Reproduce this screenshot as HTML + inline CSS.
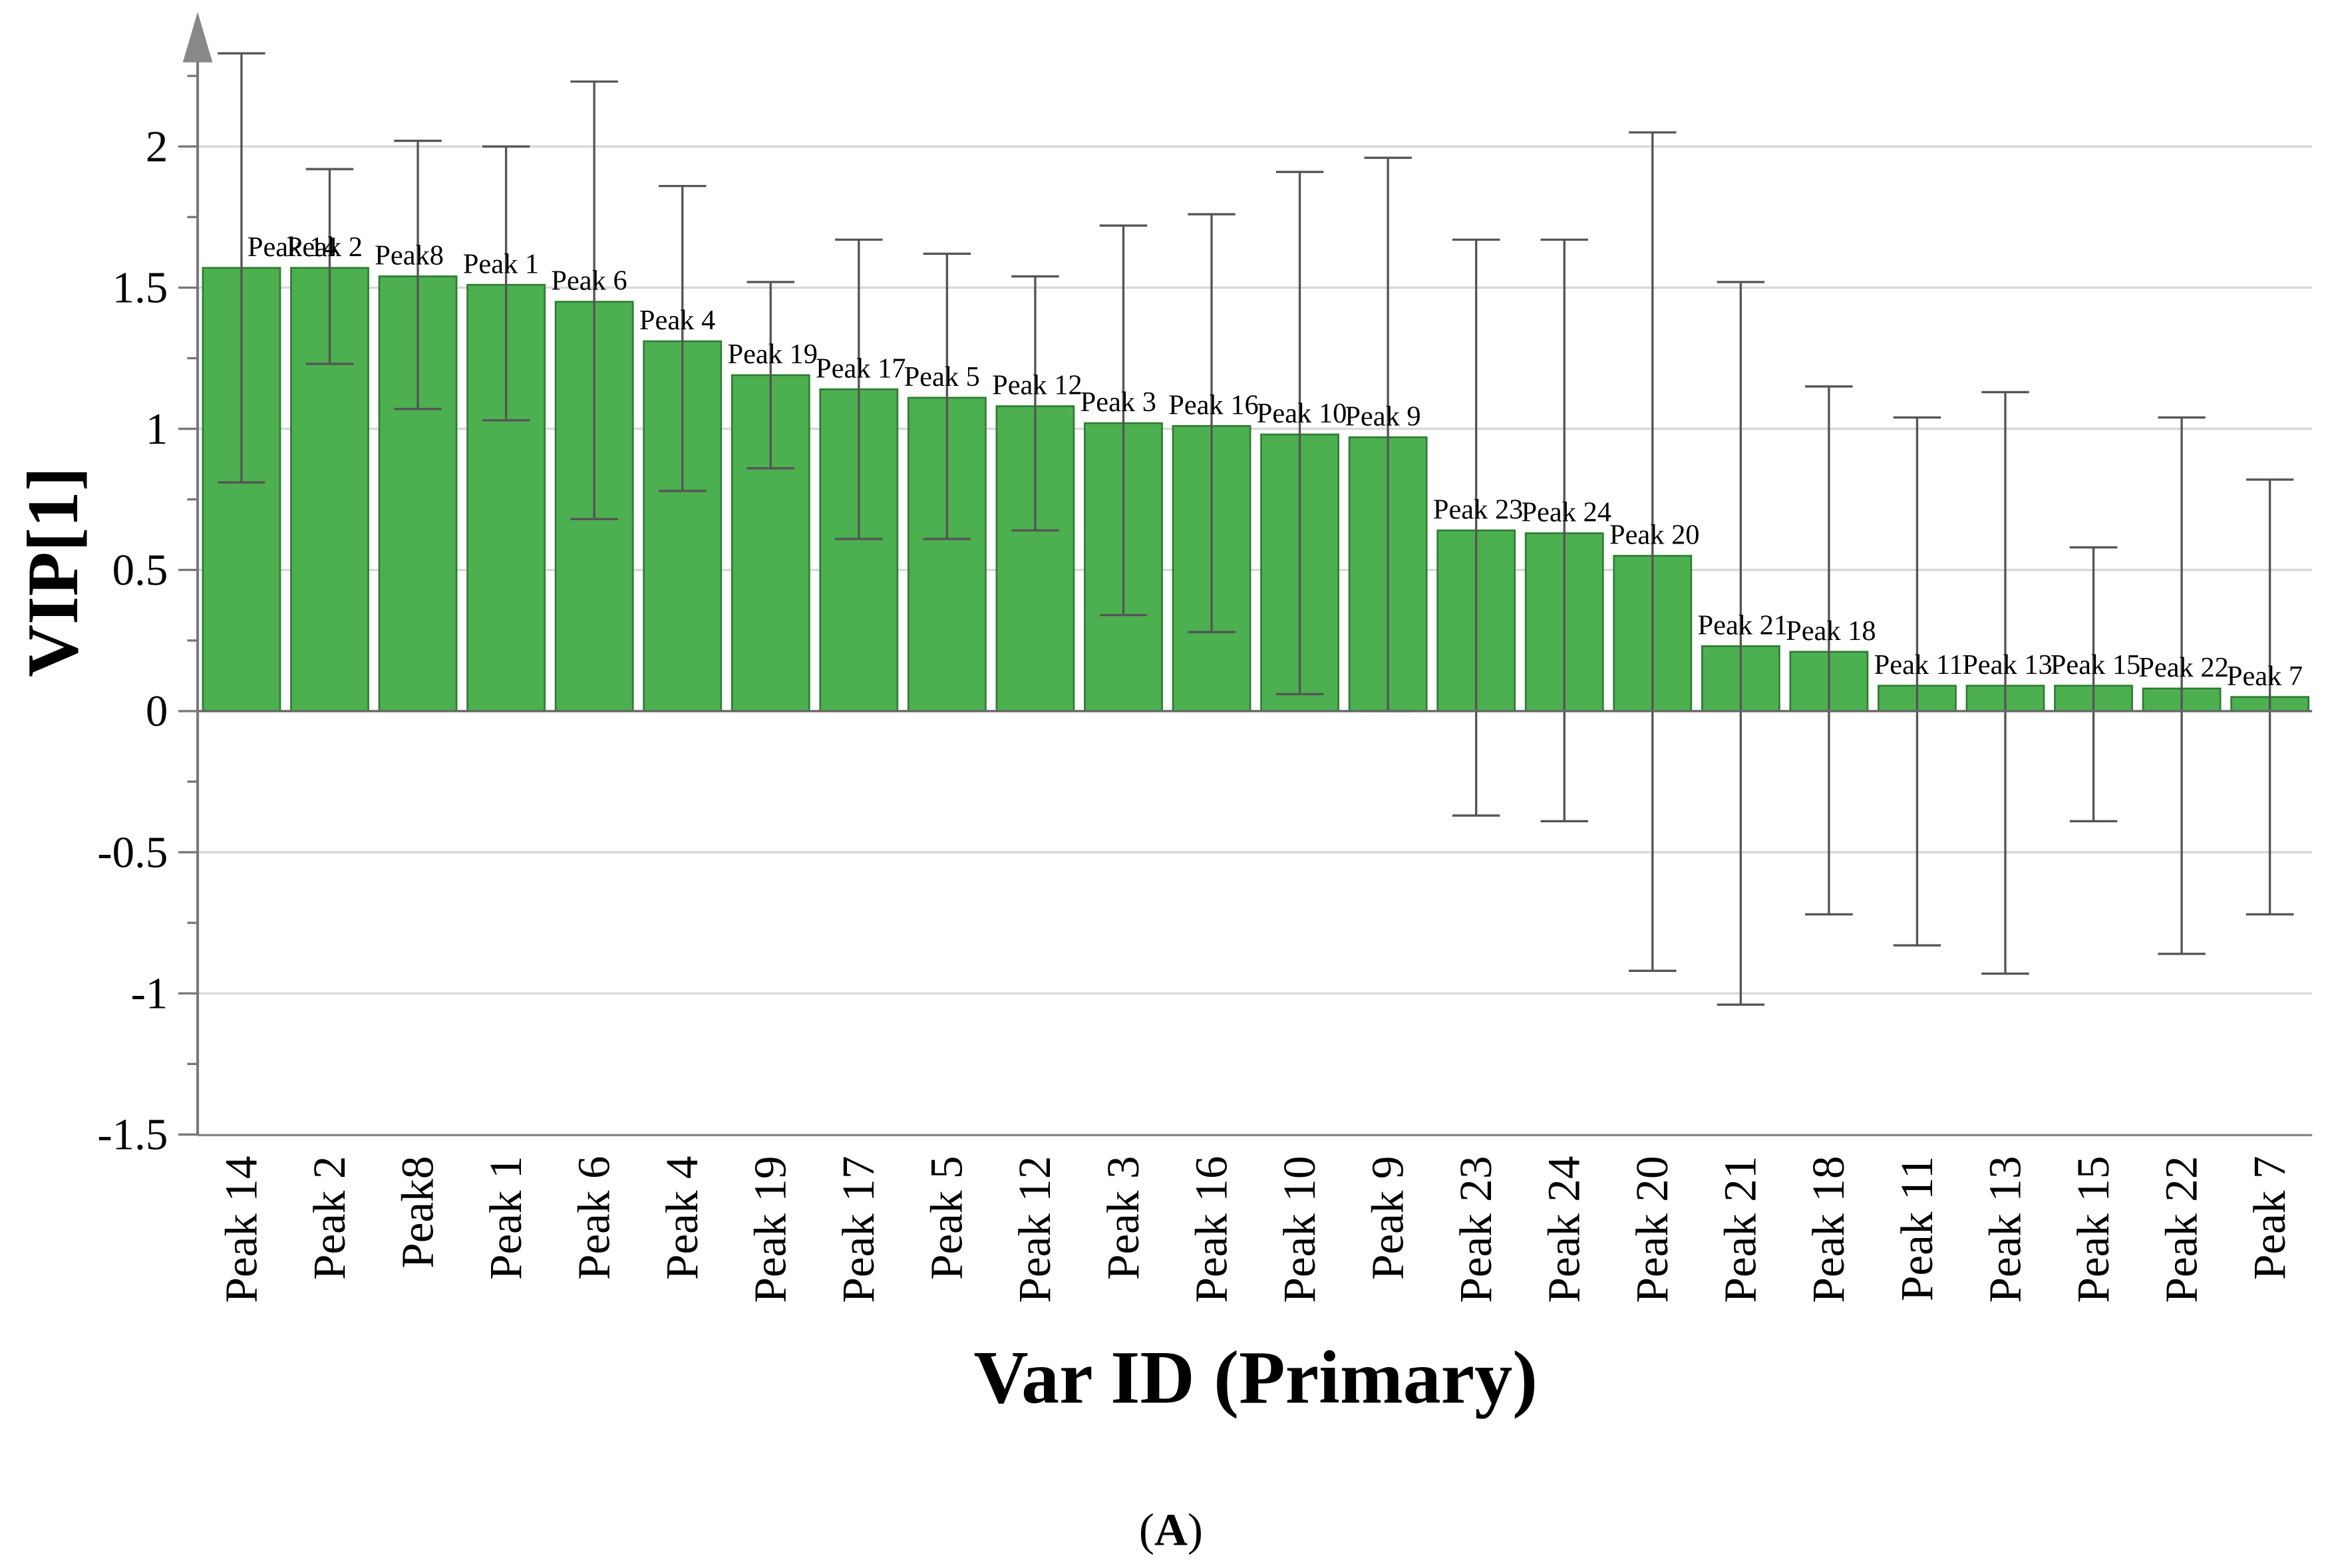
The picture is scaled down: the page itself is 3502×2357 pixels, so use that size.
<!DOCTYPE html>
<html><head><meta charset="utf-8"><style>html,body{margin:0;padding:0;background:#fff}svg{display:block}</style></head>
<body>
<svg width="3502" height="2357" viewBox="0 0 1568 1055.35" xmlns="http://www.w3.org/2000/svg" font-family="'Liberation Serif', serif">
<g id="grid"></g>
<g id="bars"></g>
<g id="errs"></g>
<g id="lbls"></g>
<g id="axes"></g>
<text transform="translate(52,385) rotate(-90)" text-anchor="middle" font-size="49" font-weight="bold">VIP[1]</text>
<text x="845" y="944" text-anchor="middle" font-size="51" font-weight="bold">Var ID (Primary)</text>
<text x="788" y="1040" text-anchor="middle" font-size="31">(<tspan font-weight="bold">A</tspan>)</text>
<script>
const categories=["Peak 14","Peak 2","Peak8","Peak 1","Peak 6","Peak 4","Peak 19","Peak 17","Peak 5","Peak 12","Peak 3","Peak 16","Peak 10","Peak 9","Peak 23","Peak 24","Peak 20","Peak 21","Peak 18","Peak 11","Peak 13","Peak 15","Peak 22","Peak 7"];
const values=[1.57,1.57,1.54,1.51,1.45,1.31,1.19,1.14,1.11,1.08,1.02,1.01,0.98,0.97,0.64,0.63,0.55,0.23,0.21,0.09,0.09,0.09,0.08,0.05];
const upper=[2.33,1.92,2.02,2.0,2.23,1.86,1.52,1.67,1.62,1.54,1.72,1.76,1.91,1.96,1.67,1.67,2.05,1.52,1.15,1.04,1.13,0.58,1.04,0.82];
const lower=[0.81,1.23,1.07,1.03,0.68,0.78,0.86,0.61,0.61,0.64,0.34,0.28,0.06,0.0,-0.37,-0.39,-0.92,-1.04,-0.72,-0.83,-0.93,-0.39,-0.86,-0.72];
const yTicks=[-1.5,-1,-0.5,0,0.5,1,1.5,2];
const yTickLabels=["-1.5","-1","-0.5","0","0.5","1","1.5","2"];
const NS="http://www.w3.org/2000/svg";
const X0=133,X1=1556,Y0=764;
function y(v){return 478.6-v*190;}
function xc(i){return 162.5+i*59.35;}
function mk(p,t,a){const e=document.createElementNS(NS,t);for(const k in a)e.setAttribute(k,a[k]);document.getElementById(p).appendChild(e);return e;}
yTicks.forEach((t,i)=>{
 if(t!==0&&t!==-1.5){const g=mk('grid','line',{x1:X0,x2:X1,y1:y(t),y2:y(t),stroke:'#d8d8d8','stroke-width':1.5});
 
 }
 const tk=mk('axes','line',{x1:120,x2:X0,y1:y(t),y2:y(t),stroke:'#777','stroke-width':1.5});
 
 
 const m=mk('axes','line',{x1:126,x2:X0,y1:y(t+0.25),y2:y(t+0.25),stroke:'#777','stroke-width':1.5});
 
 
 const lb=mk('axes','text',{x:113,y:y(t)+10,'text-anchor':'end','font-size':30});
 lb.textContent=yTickLabels[i];
 
 
});
const bw=52;
categories.forEach((c,i)=>{
 const v=values[i],cx=xc(i);
 const r=mk('bars','rect',{x:cx-bw/2,y:Math.min(y(v),y(0)),width:bw,height:Math.abs(y(0)-y(v)),fill:'#4caf50',stroke:'#2e7d32','stroke-width':1.2});
 
 
 const e=mk('errs','path',{d:`M${cx},${y(upper[i])}V${y(lower[i])}M${cx-16},${y(upper[i])}H${cx+16}M${cx-16},${y(lower[i])}H${cx+16}`,stroke:'#555','stroke-width':1.5,fill:'none'});
 
 
 const t=mk('lbls','text',{x:i===0?cx+4:cx-29,y:y(v)-8,'font-size':19});
 t.textContent=c;
 
 
 const xl=mk('axes','text',{transform:`translate(${cx+10},778) rotate(-90)`,'text-anchor':'end','font-size':31});
 xl.textContent=c;
 
 
});
const z=mk('axes','line',{x1:X0,x2:X1,y1:y(0),y2:y(0),stroke:'#666','stroke-width':1.5});


const xa=mk('axes','line',{x1:X0,x2:X1,y1:Y0,y2:Y0,stroke:'#888','stroke-width':1.5});


const ya=mk('axes','line',{x1:X0,x2:X0,y1:Y0,y2:30,stroke:'#777','stroke-width':1.8});


const ar=mk('axes','polygon',{points:'123,42 143,42 133,8',fill:'#888'});


</script>
</svg>
</body></html>
